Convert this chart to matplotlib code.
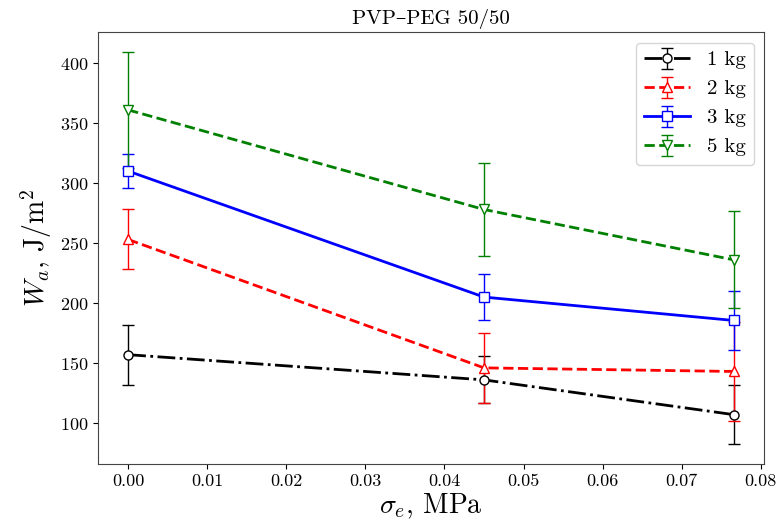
import matplotlib
matplotlib.use('Agg')
import matplotlib.pyplot as plt

plt.rcParams['font.family'] = ['cmr10', 'DejaVu Serif']
plt.rcParams['mathtext.fontset'] = 'cm'
plt.rcParams['axes.formatter.use_mathtext'] = True

# data
sigma = [0.0, 0.045, 0.0766]
w_1kg = [157, 136, 107]
e_1kg = [25, 19.5, 24.7]
w_2kg = [253, 146, 143]
e_2kg = [25, 29, 41]
w_3kg = [310, 205, 185.5]
e_3kg = [14.5, 19.5, 24.5]
w_5kg = [361, 278, 236]
e_5kg = [48.5, 38.5, 40.5]
labels = ['1 kg', '2 kg', '3 kg', '5 kg']

fig = plt.figure(figsize=(7.83, 5.26), dpi=100)
ax = fig.add_axes([0.125, 0.118, 0.851, 0.821])

series = [(w_1kg, e_1kg, 'black', '-.', 'o'),
          (w_2kg, e_2kg, 'red', '--', '^'),
          (w_3kg, e_3kg, 'blue', '-', 's'),
          (w_5kg, e_5kg, 'green', '--', 'v')]
for (w, e, c, ls, m), lab in zip(series, labels):
    ax.errorbar(sigma, w, yerr=e, color=c, ls=ls, lw=2, marker=m,
                mfc='white', mec=c, ms=6.5, elinewidth=1, capsize=4,
                label=lab)

ax.set_title('PVP–PEG 50/50', fontsize=15)
ax.set_xlabel(r'$\sigma_e$, MPa', fontsize=20, labelpad=2)
ax.set_ylabel(r'$W_a$, J/m$^2$', fontsize=20)
ax.tick_params(labelsize=13)
ax.set_xticks([0.0, 0.01, 0.02, 0.03, 0.04, 0.05, 0.06, 0.07, 0.08])
ax.set_xticklabels(['0.00', '0.01', '0.02', '0.03', '0.04', '0.05',
                    '0.06', '0.07', '0.08'])
ax.legend(loc='upper right', fontsize=15, handlelength=2.2)
for s in ax.spines.values():
    s.set_color('#444444')

plt.savefig('out.png')
